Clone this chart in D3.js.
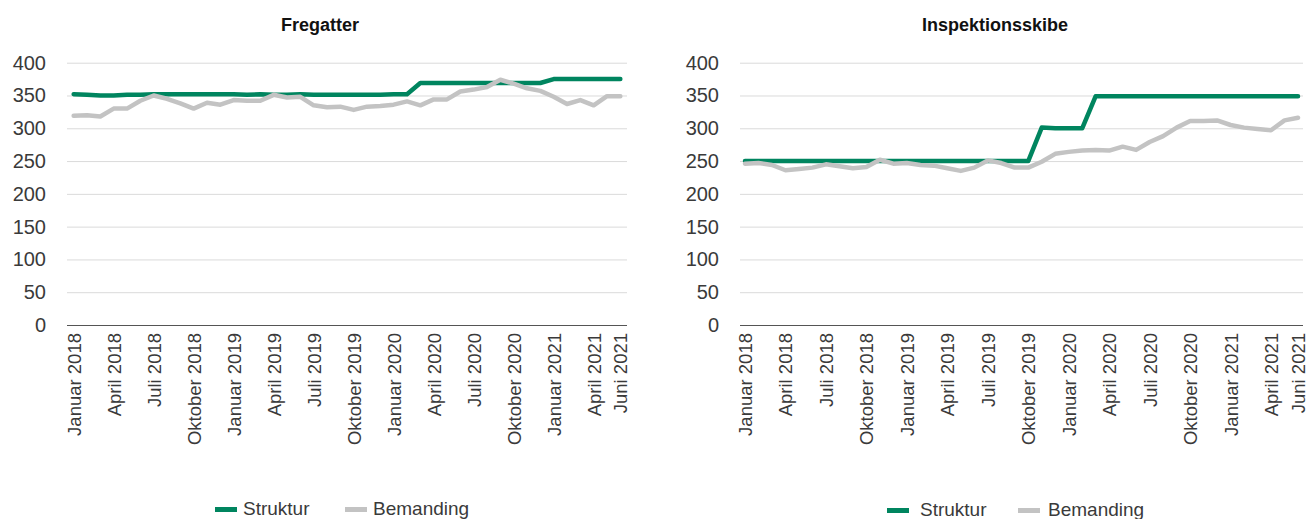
<!DOCTYPE html>
<html>
<head>
<meta charset="utf-8">
<script src="https://cdn.jsdelivr.net/npm/d3@7"></script>
<style>
  body { margin: 0; background: #fff; }
  text { font-family: "Liberation Sans", Arial, sans-serif; }
</style>
</head>
<body>
<div id="chart"></div>
<script>
// måneder januar 2018 - juni 2021
var monthNames = ["Januar", "Februar", "Marts", "April", "Maj", "Juni", "Juli",
    "August", "September", "Oktober", "November", "December"];
var months = [];
for (var yr = 2018; yr <= 2021; yr++) {
    for (var m = 0; m < 12; m++) {
        if (yr === 2021 && m > 5) break;
        months.push(monthNames[m] + " " + yr);
    }
}
// hver 3. måned + sidste
var tickLabels = months.filter(function (d, i) { return i % 3 === 0 || i === months.length - 1; });
var yTicks = [0, 50, 100, 150, 200, 250, 300, 350, 400];

var fregatStruktur = [352, 351, 350, 350, 351, 351, 352, 352, 352, 352, 352, 352, 352, 351,
    352, 351, 351, 352, 351, 351, 351, 351, 351, 351, 352, 352, 369, 369, 369, 369, 369,
    369, 369, 369, 369, 369, 375, 375, 375, 375, 375, 375];
var fregatBemanding = [319, 320, 318, 330, 330, 342, 350, 345, 338, 330, 339, 336, 343, 342,
    342, 351, 347, 348, 335, 332, 333, 328, 333, 334, 336, 341, 335, 344, 344, 356, 359,
    363, 374, 368, 361, 357, 348, 337, 343, 335, 349, 349];

var inspStruktur = [250, 250, 250, 250, 250, 250, 250, 250, 250, 250, 250, 250, 250, 250,
    250, 250, 250, 250, 250, 250, 250, 250, 301, 300, 300, 300, 349, 349, 349, 349, 349,
    349, 349, 349, 349, 349, 349, 349, 349, 349, 349, 349];
var inspBemanding = [246, 247, 244, 236, 238, 240, 245, 242, 239, 241, 252, 246, 247, 244,
    243, 239, 235, 240, 251, 247, 240, 240, 249, 261, 264, 266, 267, 266, 272, 267, 279,
    288, 301, 311, 311, 312, 305, 301, 299, 297, 312, 316];

var green = "#00855f";
var grey = "#c3c3c3";

var svg = d3.select("#chart")
    .append("svg")
    .attr("width", 1312)
    .attr("height", 519);

function panel(title, struktur, bemanding, x0, x1, pad, titleX, legendX, legendY, legOff) {
    var x = d3.scalePoint().domain(months).range([x0, x1]).padding(pad);
    var y = d3.scaleLinear().domain([0, 400]).range([325, 62.7]);
    var g = svg.append("g");

    g.append("text")
        .attr("x", titleX)
        .attr("y", 31)
        .attr("text-anchor", "middle")
        .attr("font-size", "18px")
        .attr("font-weight", "bold")
        .attr("fill", "#111")
        .text(title);

    // gitterlinjer
    var yAxis = g.append("g")
        .attr("transform", "translate(" + x0 + ",0)")
        .call(d3.axisLeft(y).tickValues(yTicks).tickSize(-(x1 - x0)).tickPadding(21));
    yAxis.select(".domain").remove();
    yAxis.selectAll(".tick line")
        .attr("stroke", function (d) { return d === 0 ? "#555" : "#dadada"; });
    yAxis.selectAll(".tick text")
        .attr("font-size", "20px")
        .attr("fill", "#3a3a3a");

    var xAxis = g.append("g")
        .attr("transform", "translate(0,325)")
        .call(d3.axisBottom(x).tickValues(tickLabels).tickSize(0));
    xAxis.select(".domain").remove();
    xAxis.selectAll(".tick text")
        .attr("font-size", "18.5px")
        .attr("fill", "#3a3a3a")
        .attr("text-anchor", "end")
        .attr("transform", "rotate(-90)")
        .attr("x", -8)
        .attr("y", 0)
        .attr("dy", "0.35em");

    var line = d3.line()
        .x(function (d, i) { return x(months[i]); })
        .y(function (d) { return y(d); });

    g.append("path")
        .datum(struktur)
        .attr("d", line)
        .attr("fill", "none")
        .attr("stroke", green)
        .attr("stroke-width", 4.5)
        .attr("stroke-linejoin", "round")
        .attr("stroke-linecap", "round");

    g.append("path")
        .datum(bemanding)
        .attr("d", line)
        .attr("fill", "none")
        .attr("stroke", grey)
        .attr("stroke-width", 4.5)
        .attr("stroke-linejoin", "round")
        .attr("stroke-linecap", "round");

    // legende
    var leg = [["Struktur", green, 0, legOff[0]], ["Bemanding", grey, legOff[1], legOff[2]]];
    leg.forEach(function (l) {
        g.append("rect")
            .attr("x", legendX + l[2])
            .attr("y", legendY - 8)
            .attr("width", 22)
            .attr("height", 5)
            .attr("fill", l[1]);
        g.append("text")
            .attr("x", legendX + l[3])
            .attr("y", legendY)
            .attr("font-size", "19px")
            .attr("fill", "#3a3a3a")
            .text(l[0]);
    });
}

panel("Fregatter", fregatStruktur, fregatBemanding, 67, 627, 0.5, 320, 215, 515, [28, 130, 158]);
panel("Inspektionsskibe", inspStruktur, inspBemanding, 740, 1303, 0.37, 995, 887, 516, [33, 131, 161]);
</script>
</body>
</html>
